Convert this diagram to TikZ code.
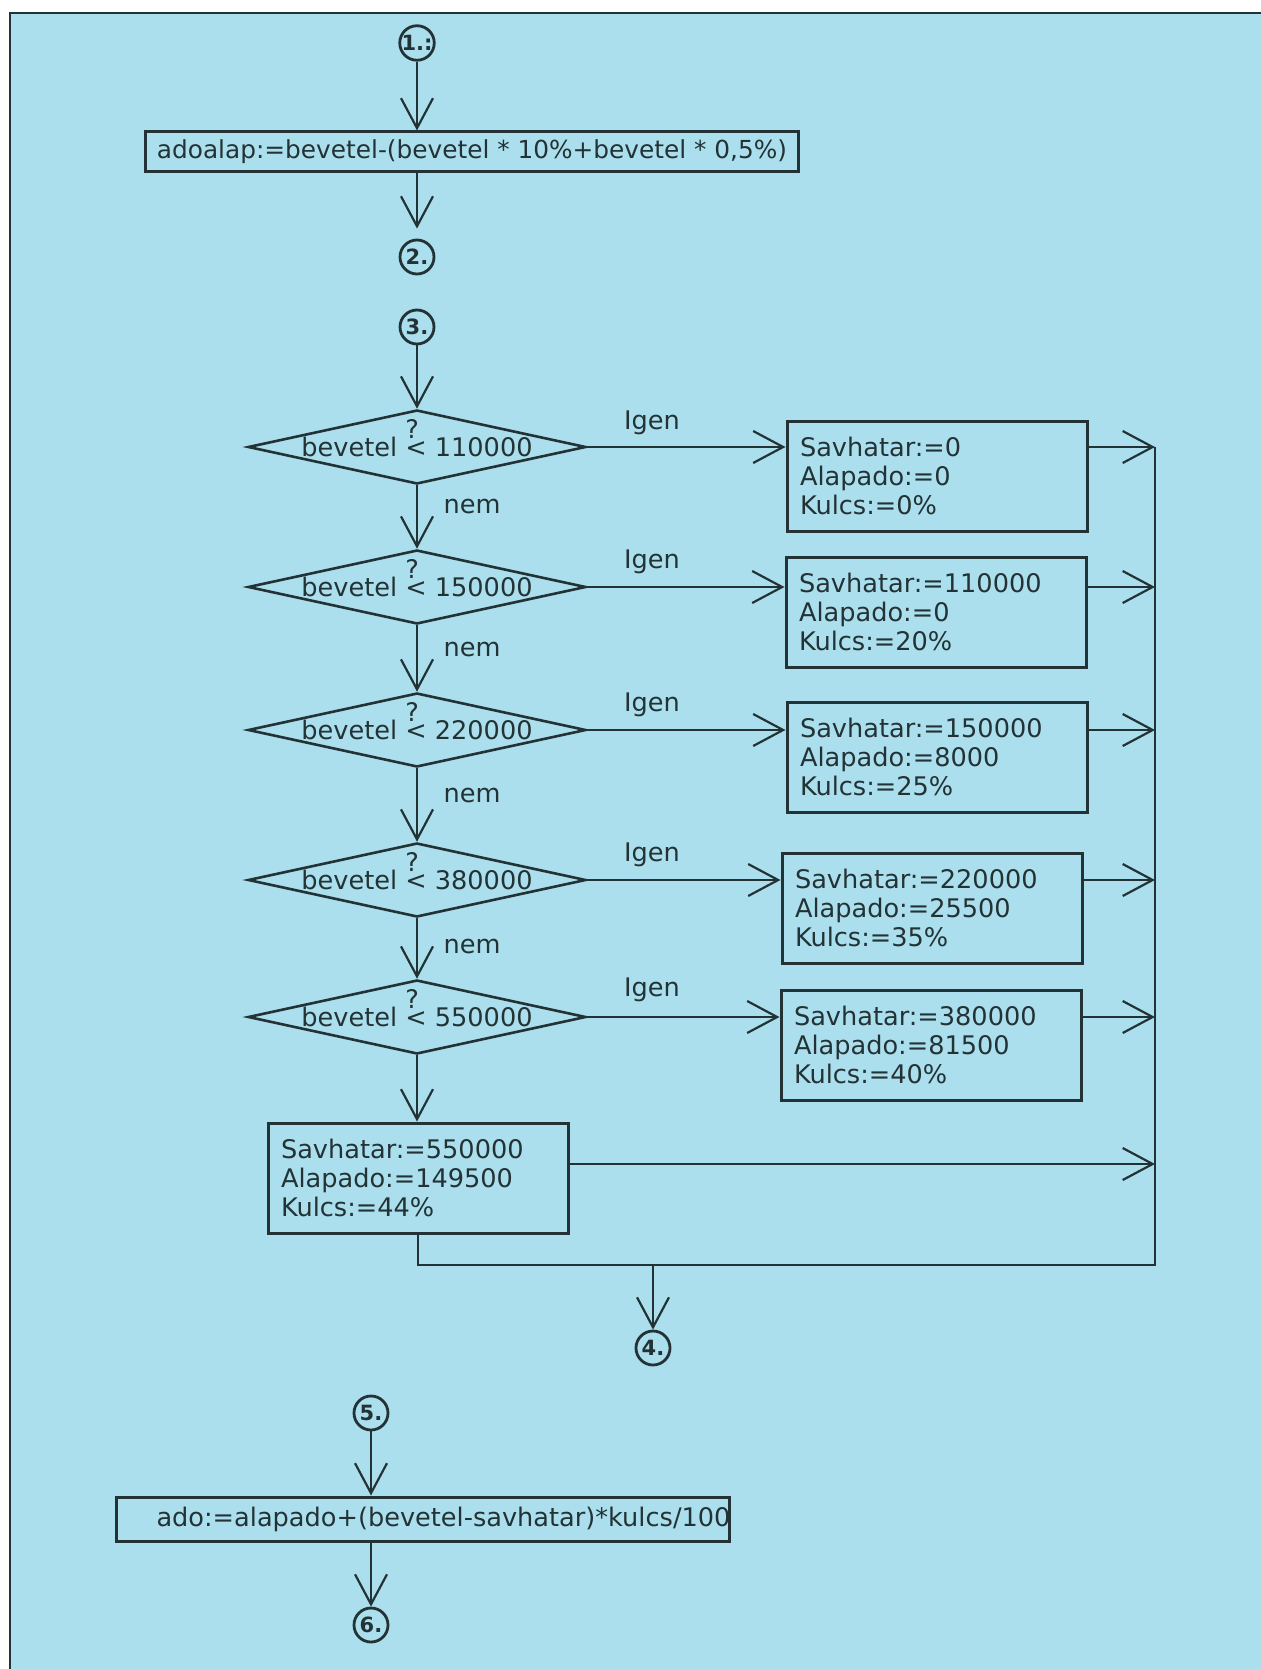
\documentclass[tikz,border=0pt]{standalone}
\usepackage{fontspec}
\setmainfont{DejaVu Sans}
\usetikzlibrary{arrows.meta,shapes.geometric,calc}
\definecolor{Ink}{HTML}{233335}
\definecolor{Lap}{HTML}{ACDFEE}
\newcommand{\Kerdes}{\rlap{\smash{\raisebox{0.72em}{?}}}<}
\newcommand{\Dontes}[3]{%
  \node[dontes] (#1) at (417,#2) {};%
  \node[szoveg] (#1t) at (#1) {bevetel \Kerdes{} #3};%
}
\newcommand{\Savbox}[6]{%
  \node[savbox] (#1) at (#2,#3) {Savhatar:=#4\\Alapado:=#5\\Kulcs:=#6\%};%
}

\begin{document}
\begin{tikzpicture}[x=0.5pt,y=-0.5pt,
  szoveg/.style={font=\fontsize{12.8}{14.5}\selectfont,text=Ink,inner sep=0pt},
  jel/.style={circle,draw=Ink,line width=1.4pt,minimum size=17pt,inner sep=0pt,
    text=Ink,font=\bfseries\fontsize{10.5}{10.5}\selectfont},
  muvelet/.style={szoveg,draw=Ink,line width=1.5pt,minimum height=20pt},
  savbox/.style={szoveg,draw=Ink,line width=1.5pt,minimum width=150pt,minimum height=55pt,
    text width=137pt,inner xsep=6.5pt,align=left},
  dontes/.style={diamond,draw=Ink,line width=1.3pt,minimum width=169pt,minimum height=37pt,inner sep=0pt},
  felirat/.style={szoveg},
  nyil/.style={draw=Ink,line width=1.1pt,-{Straight Barb[length=15pt,width=16pt,line width=1.1pt]}},
  vonal/.style={draw=Ink,line width=1.1pt}]
\useasboundingbox (0,0) rectangle (1261,1669);
% lap es keret
\fill[white] (-5,-5) rectangle (1270,1680);
\fill[Lap] (10,13) rectangle (1270,1680);
\draw[Ink,line width=1.1pt] (10,1680) -- (10,13) -- (1270,13);

\node[jel] (k1) at (417,43) {1.:};
\node[muvelet,minimum width=326.5pt,font=\fontsize{12.4}{14}\selectfont] (m1) at (472,152) {adoalap:=bevetel-(bevetel * 10\%+bevetel * 0,5\%)};
\node[jel] (k2) at (417,257) {2.};
\node[jel] (k3) at (417,327) {3.};

\Dontes{d1}{447}{110000}
\Dontes{d2}{587}{150000}
\Dontes{d3}{730}{220000}
\Dontes{d4}{880}{380000}
\Dontes{d5}{1017}{550000}

\Savbox{s1}{937}{476}{0}{0}{0}
\Savbox{s2}{936}{612}{110000}{0}{20}
\Savbox{s3}{937}{757}{150000}{8000}{25}
\Savbox{s4}{932}{908}{220000}{25500}{35}
\Savbox{s5}{931}{1045}{380000}{81500}{40}
\Savbox{s6}{418}{1178}{550000}{149500}{44}

\foreach \n/\y in {1/423,2/562,3/705,4/855,5/990}
  \node[felirat] (igen\n) at (652,\y) {Igen};
\foreach \n/\y in {1/507,2/650,3/796,4/947}
  \node[felirat] (nem\n) at (472,\y) {nem};

\coordinate (gyujto) at (1155,447);
\coordinate (also) at (1155,1265);

\draw[nyil] (k1) -- (k1 |- m1.north);
\draw[nyil,shorten >=5pt] (m1.south -| k2) -- (k2.north);
\draw[nyil] (k3) -- (d1.north);
\draw[nyil] (d1.south) -- (d2.north);
\draw[nyil] (d2.south) -- (d3.north);
\draw[nyil] (d3.south) -- (d4.north);
\draw[nyil] (d4.south) -- (d5.north);
\draw[nyil] (d5.south) -- (d5.south |- s6.north);
\foreach \i in {1,...,5} {
  \draw[nyil] (d\i.east) -- (d\i -| s\i.west);
  \draw[nyil] (d\i -| s\i.east) -- (d\i -| gyujto);
}
\draw[nyil] ([yshift=7pt]s6.east) -- ([yshift=7pt]s6.east -| gyujto);
\draw[vonal] (s6.south) |- (also) -- (gyujto);

\node[jel] (k4) at (653,1348) {4.};
\draw[nyil] (k4 |- also) -- (k4.north);

\node[jel] (k5) at (371,1413) {5.};
\node[muvelet,minimum width=306.5pt,minimum height=22pt,text width=266.5pt,inner xsep=20pt,align=left] (m2) at (423,1519) {\mbox{ado:=alapado+(bevetel-savhatar)*kulcs/100}};
\node[jel] (k6) at (371,1625) {6.};
\draw[nyil] (k5) -- (k5 |- m2.north);
\draw[nyil] (m2.south -| k6) -- (k6.north);
\end{tikzpicture}
\end{document}
